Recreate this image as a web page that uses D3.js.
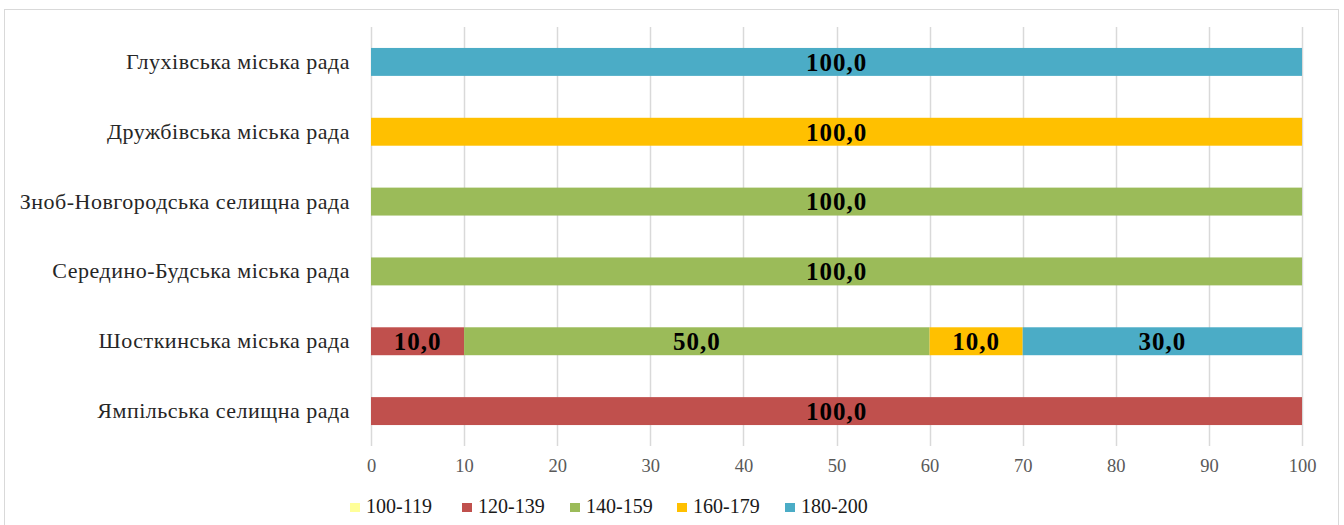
<!DOCTYPE html>
<html>
<head>
<meta charset="utf-8">
<script src="https://cdn.jsdelivr.net/npm/d3@7"></script>
<style>
  html, body { margin: 0; padding: 0; background: #fff; }
  svg { display: block; font-family: "Liberation Serif", "Times New Roman", serif; }
</style>
</head>
<body>
<svg id="chart" width="1344" height="525"></svg>
<script>
// Councils, listed top to bottom
const categories = [
  "Глухівська міська рада",
  "Дружбівська міська рада",
  "Зноб-Новгородська селищна рада",
  "Середино-Будська міська рада",
  "Шосткинська міська рада",
  "Ямпільська селищна рада"
];
// Score groups (stacked series)
const seriesNames = ["100-119", "120-139", "140-159", "160-179", "180-200"];
const seriesColors = ["#FFFF99", "#C0504D", "#9BBB59", "#FFC000", "#4BACC6"];
// Shares, %, per group, aligned with categories
const s100_119 = [0, 0, 0, 0, 0, 0];
const s120_139 = [0, 0, 0, 0, 10, 100];
const s140_159 = [0, 0, 100, 100, 50, 0];
const s160_179 = [0, 100, 0, 0, 10, 0];
const s180_200 = [100, 0, 0, 0, 30, 0];
const xTicks = [0, 10, 20, 30, 40, 50, 60, 70, 80, 90, 100];

const seriesValues = [s100_119, s120_139, s140_159, s160_179, s180_200];
const rows = categories.map((c, i) => {
  const r = { category: c };
  seriesNames.forEach((s, k) => r[s] = seriesValues[k][i]);
  return r;
});

const FONT = "'Liberation Serif', 'Times New Roman', serif";
const svg = d3.select("#chart");
const W = 1344, H = 525;
const margin = { left: 371, right: 42, top: 27, bottom: 79 };

// outer chart frame
svg.append("rect")
  .attr("x", 4.5).attr("y", 9.5)
  .attr("width", 1334).attr("height", 530)
  .attr("fill", "#fff").attr("stroke", "#d9d9d9").attr("stroke-width", 1);

const x = d3.scaleLinear().domain([0, 100]).range([margin.left, W - margin.right]);
const y = d3.scaleBand().domain(categories)
  .range([margin.top, H - margin.bottom]).paddingInner(0.6).paddingOuter(0.3);

// vertical gridlines
svg.append("g").selectAll("line").data(xTicks).join("line")
  .attr("x1", d => Math.round(x(d)) + 0.5).attr("x2", d => Math.round(x(d)) + 0.5)
  .attr("y1", margin.top).attr("y2", H - margin.bottom)
  .attr("stroke", "#d9d9d9").attr("stroke-width", 1.5);

// x tick labels
const xAxis = svg.append("g")
  .attr("transform", `translate(0,${H - margin.bottom})`)
  .call(d3.axisBottom(x).tickValues(xTicks).tickSize(0).tickPadding(13).tickFormat(d3.format("d")));
xAxis.select(".domain").remove();
xAxis.attr("font-family", FONT).attr("font-size", 18.5);
xAxis.selectAll("text")
  .style("font-family", FONT)
  .style("font-size", "18.5px").attr("fill", "#595959");

// category labels
const yAxis = svg.append("g")
  .attr("transform", `translate(${margin.left - 21},0)`)
  .call(d3.axisLeft(y).tickSize(0).tickPadding(0));
yAxis.select(".domain").remove();
yAxis.attr("font-family", FONT).attr("font-size", 22);
yAxis.selectAll("text")
  .style("font-family", FONT)
  .style("font-size", "22px").style("letter-spacing", "0.5px")
  .attr("fill", "#262626");

// stacked bars
const stack = d3.stack().keys(seriesNames)(rows);
const layers = svg.append("g").selectAll("g").data(stack).join("g")
  .attr("fill", (d, i) => seriesColors[i]);
layers.selectAll("rect").data(d => d.filter(p => p[1] - p[0] > 0)).join("rect")
  .attr("x", d => x(d[0])).attr("width", d => x(d[1]) - x(d[0]))
  .attr("y", d => y(d.data.category)).attr("height", y.bandwidth());

// value labels
layers.selectAll("text").data(d => d.filter(p => p[1] - p[0] > 0)).join("text")
  .attr("x", d => (x(d[0]) + x(d[1])) / 2)
  .attr("y", d => y(d.data.category) + y.bandwidth() / 2)
  .attr("dy", "0.35em").attr("text-anchor", "middle")
  .style("font-family", FONT).style("font-weight", "bold")
  .style("font-size", "25px").style("letter-spacing", "1px")
  .attr("fill", "#000")
  .text(d => d3.format(".1f")(d[1] - d[0]).replace(".", ","));

// legend
const legendX = [350, 462, 570, 677, 785];
const legend = svg.append("g").selectAll("g").data(seriesNames).join("g")
  .attr("transform", (d, i) => `translate(${legendX[i]},507)`);
legend.append("rect")
  .attr("x", 0).attr("y", -4).attr("width", 10).attr("height", 9)
  .attr("fill", (d, i) => seriesColors[i]);
legend.append("text")
  .attr("x", 16).attr("y", 6)
  .style("font-family", FONT)
  .style("font-size", "20px").attr("fill", "#1a1a1a")
  .text(d => d);
</script>
</body>
</html>
